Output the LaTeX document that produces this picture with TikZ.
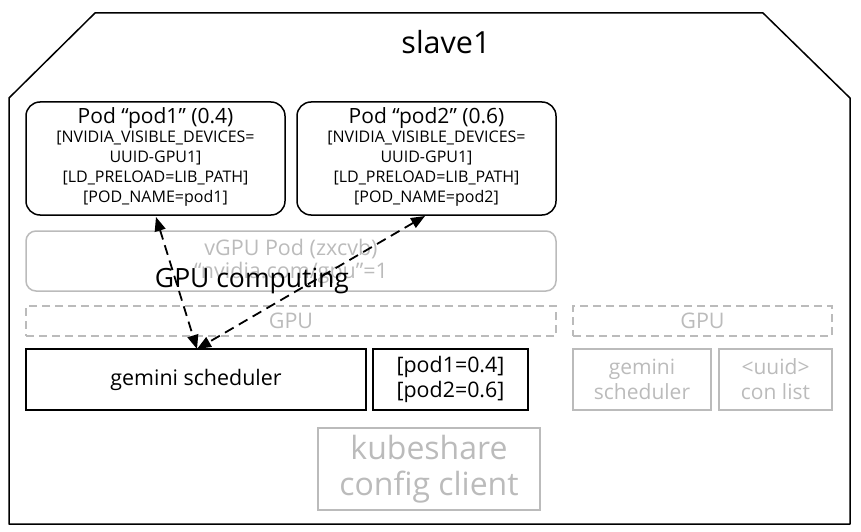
\documentclass[tikz,border=0pt]{standalone}
\usepackage{fontspec}
\setmainfont{Open Sans}
\usetikzlibrary{arrows.meta}
\definecolor{lgray}{HTML}{BBBBBB}
\tikzset{
  box/.style={draw, line width=1.5pt, inner sep=0pt, align=center},
  podbox/.style={box, rounded corners=14pt, minimum width=259pt, minimum height=113pt},
  graybox/.style={box, draw=lgray, text=lgray},
  dashbox/.style={graybox, dashed, dash pattern=on 8pt off 5pt},
  conn/.style={line width=1.8pt, dashed, dash pattern=on 10pt off 6pt, {Triangle[length=14pt,width=11pt]}-{Triangle[length=14pt,width=11pt]}},
  podtitle/.style={align=center, font=\fontsize{21}{24}\selectfont},
  podbody/.style={align=center, font=\fontsize{16}{20}\selectfont, anchor=north, inner sep=0pt},
}
\begin{document}
\begin{tikzpicture}[x=1pt,y=-1pt]
\useasboundingbox (0,0) rectangle (861,532);
\draw[line width=1.5pt, line join=round] (95,13) -- (763,13) -- (850,98) -- (850,524) -- (9,524) -- (9,98) -- cycle;
\node (title) at (446,42) {\fontsize{30.5}{34}\selectfont slave1};

\node[podbox] (pod1) at (155.5,158.5) {};
\node[podbox] (pod2) at (426.5,158.5) {};
\node[podtitle] (p1t) at (155.5,118) {Pod “pod1” (0.4)};
\node[podbody] (p1b) at (155.5,131) {{[NVIDIA\_VISIBLE\_DEVICES=}\\{UUID-GPU1]}\\{[LD\_PRELOAD=LIB\_PATH]}\\{[POD\_NAME=pod1]}};
\node[podtitle] (p2t) at (426.5,118) {Pod “pod2” (0.6)};
\node[podbody] (p2b) at (426.5,131) {{[NVIDIA\_VISIBLE\_DEVICES=}\\{UUID-GPU1]}\\{[LD\_PRELOAD=LIB\_PATH]}\\{[POD\_NAME=pod2]}};

\node[graybox, rounded corners=10pt, minimum width=530pt, minimum height=60pt, font=\fontsize{21.5}{23}\selectfont] (vgpu) at (291,261) {vGPU Pod (zxcvb)\\“nvidia.com/gpu”=1};

\node[dashbox, minimum width=530pt, minimum height=30pt, font=\fontsize{21.5}{24}\selectfont] (gpu1) at (291,321) {GPU};
\node[dashbox, minimum width=259pt, minimum height=30pt, font=\fontsize{21.5}{24}\selectfont] (gpu2) at (702.5,321) {GPU};

\node[box, minimum width=340pt, minimum height=61pt, font=\fontsize{21.4}{24}\selectfont] (gem) at (196,379.5) {gemini scheduler};
\node[box, minimum width=155pt, minimum height=61pt, font=\fontsize{21.4}{25}\selectfont] (alloc) at (450.5,379.5) {{[pod1=0.4]}\\{[pod2=0.6]}};

\node[graybox, minimum width=138pt, minimum height=61pt, font=\fontsize{21}{25}\selectfont] (gem2) at (642,379.5) {gemini\\scheduler};
\node[graybox, minimum width=113pt, minimum height=61pt, font=\fontsize{21}{25}\selectfont] (uuid) at (775.5,379.5) {<uuid>\\con list};

\node[graybox, minimum width=222pt, minimum height=82pt, font=\fontsize{32}{36}\selectfont] (kube) at (429,469) {kubeshare\\config client};

\coordinate (a1) at (156,217);
\coordinate (a2) at (425,216);
\coordinate (gtop) at (197,349);
\draw[conn] (a1) -- (gtop);
\draw[conn] (a2) -- (gtop);
\node[font=\fontsize{26.5}{30}\selectfont] (gc) at (252,281) {GPU computing};
\end{tikzpicture}
\end{document}
